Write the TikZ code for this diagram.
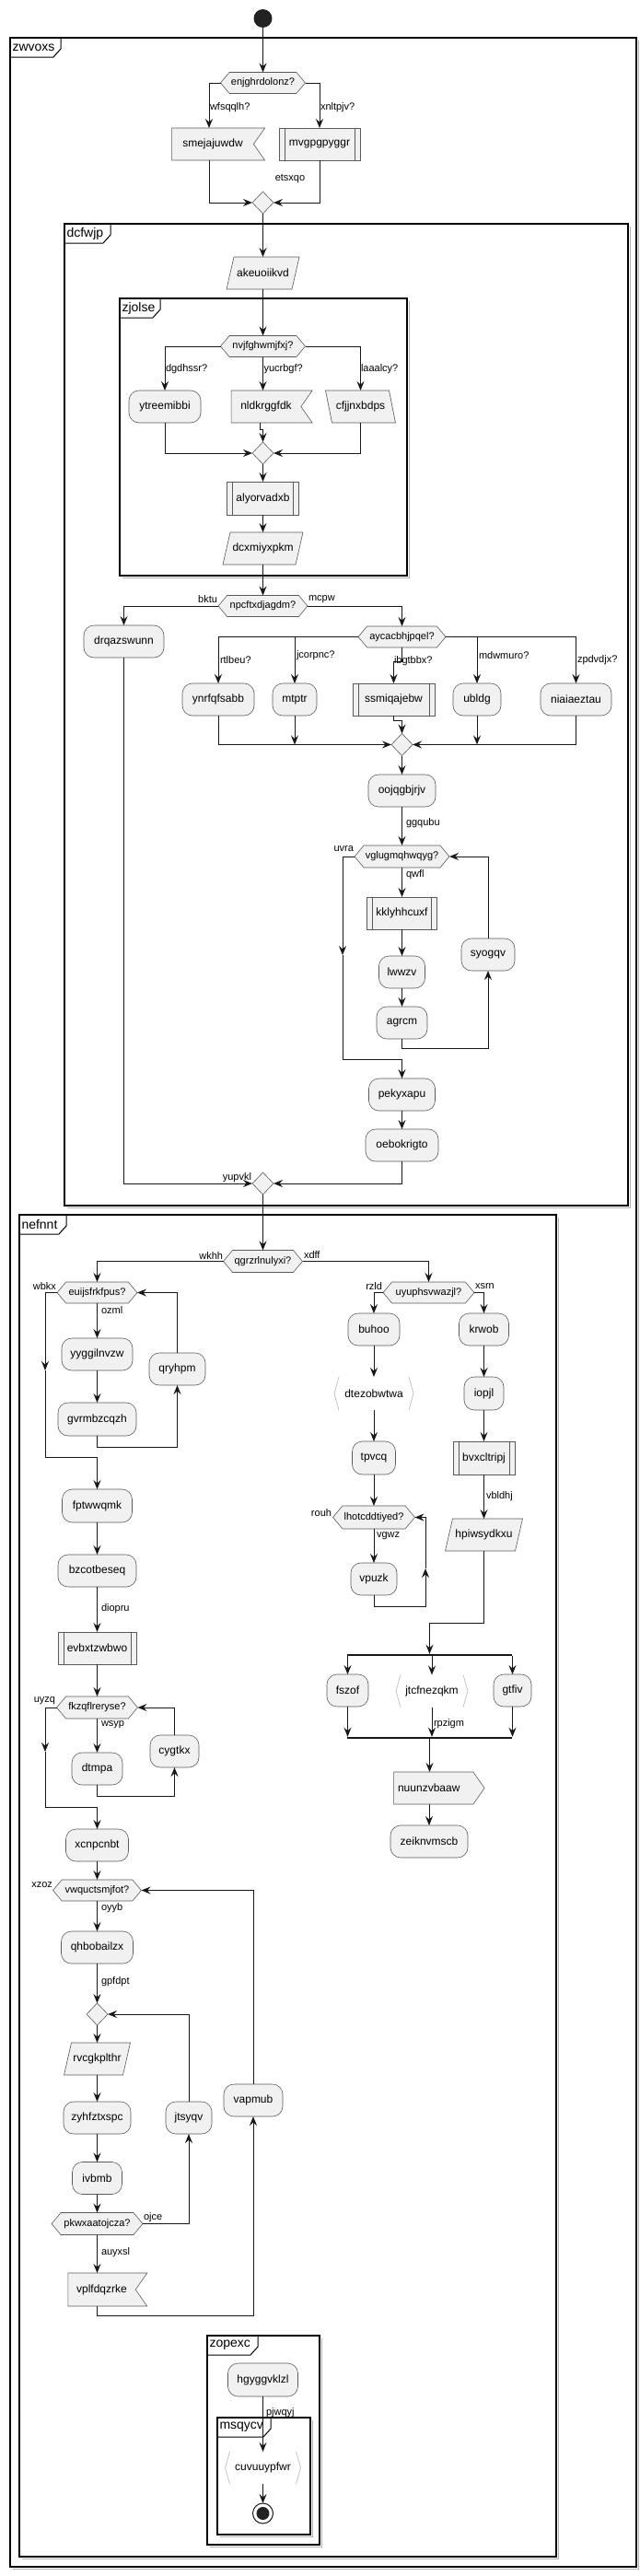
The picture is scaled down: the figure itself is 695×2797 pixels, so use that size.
\documentclass[tikz,border=0pt]{standalone}
\usepackage{fontspec}
\setmainfont{Liberation Sans}
\usetikzlibrary{shapes.symbols,shapes.geometric,arrows.meta,calc,backgrounds}
\definecolor{boxfill}{HTML}{F1F1F1}
\definecolor{lc}{HTML}{181818}
\definecolor{bd}{HTML}{5A5A5A}
\definecolor{chevc}{HTML}{B4B4B4}
\definecolor{dotc}{HTML}{222222}
\newcommand\umlframe[7]{%
  \draw[frshadow] (#3+2.5,#2+3) -- (#3+2.5,#4+2.5) -- (#1+3,#4+2.5);
  \draw[frline] (#1,#2) rectangle (#3,#4);
  \draw[frtab] (#1,#2+21) -- (#5-8,#2+21) -- (#5,#2+12) -- (#5,#2);
  \node[frtitle] (#6) at (#1+2.5,#2+10.5) {#7};
}
\newcommand\chevshape[1]{%
  \draw[chevl] ([xshift=5pt]#1.north west) -- (#1.west) -- ([xshift=5pt]#1.south west);
  \draw[chevl] ([xshift=-5pt]#1.north east) -- (#1.east) -- ([xshift=-5pt]#1.south east);
}
% parallelogram leaning right (top shifted right)
\newcommand\paral[2]{%
  \begin{scope}[on background layer]
  \filldraw[fill=boxfill, draw=bd, line width=0.6pt] ([xshift=#2]#1.north west) -- (#1.north east) -- ([xshift=-#2]#1.south east) -- (#1.south west) -- cycle;
  \end{scope}}
% parallelogram leaning left (top shifted left)
\newcommand\paralr[2]{%
  \begin{scope}[on background layer]
  \filldraw[fill=boxfill, draw=bd, line width=0.6pt] (#1.north west) -- ([xshift=-#2]#1.north east) -- (#1.south east) -- ([xshift=#2]#1.south west) -- cycle;
  \end{scope}}
\begin{document}
\begin{tikzpicture}[x=1pt,y=-1pt,
  every node/.style={inner sep=0pt, outer sep=0pt},
  txt/.style={font=\fontsize{12}{14}\selectfont},
  shp/.style={txt, draw=bd, line width=0.6pt, fill=boxfill, minimum height=35pt},
  act/.style={shp, rectangle, rounded corners=11pt},
  sub/.style={shp, rectangle, path picture={
     \draw[draw=bd, line width=0.6pt] ([xshift=6pt]path picture bounding box.north west) -- ([xshift=6pt]path picture bounding box.south west)
     ([xshift=-6pt]path picture bounding box.north east) -- ([xshift=-6pt]path picture bounding box.south east);}},
  io/.style={txt, rectangle, minimum height=35pt},
  recv/.style={shp, signal, signal to=nowhere, signal from=east, signal pointer angle=110},
  send/.style={shp, signal, signal to=east, signal from=nowhere, signal pointer angle=110},
  hex/.style={font=\fontsize{11}{13}\selectfont, draw=bd, line width=0.6pt, fill=boxfill, signal, signal to=east and west, signal pointer angle=100, minimum height=23pt},
  merge/.style={diamond, draw=bd, line width=0.6pt, fill=boxfill, minimum width=23pt, minimum height=24pt},
  chev/.style={txt, minimum height=35pt},
  chevl/.style={draw=chevc, line width=0.6pt},
  lbl/.style={font=\fontsize{11}{13}\selectfont, anchor=west},
  lble/.style={font=\fontsize{11}{13}\selectfont, anchor=east},
  arr/.style={draw=lc, line width=1pt, -{Stealth[length=10pt,width=8pt,inset=3.5pt]}},
  ln/.style={draw=lc, line width=1pt},
  bar/.style={rectangle, fill=lc, minimum height=2.5pt},
  frline/.style={draw=black, line width=1.4pt},
  frtab/.style={draw=black, line width=1pt},
  frshadow/.style={draw=black!30, line width=1pt},
  frtitle/.style={font=\fontsize{14}{16}\selectfont, anchor=west}
]
\useasboundingbox (0,0) rectangle (695,2797);

% frames
\umlframe{11}{41}{691}{2787}{66}{tzw}{zwvoxs}
\umlframe{70}{243}{682}{1309}{120}{tdc}{dcfwjp}
\umlframe{130}{324}{442}{625}{174}{tzj}{zjolse}
\umlframe{21}{1319}{604}{2776}{72}{tne}{nefnnt}
\umlframe{225}{2536}{347}{2763}{280}{tzo}{zopexc}
\umlframe{236}{2625}{337}{2752}{294}{tms}{msqycv}

% ---------- top ----------
\node[circle, fill=dotc, minimum size=20pt] (start) at (285.5,20) {};
\node[hex, minimum width=92pt] (d1) at (285.5,90) {enjghrdolonz?};
\node[recv, minimum width=101pt] (smej) at (231,156.5) {smejajuwdw};
\node[sub, minimum width=88pt] (mvgp) at (347,156.5) {mvgpgpyggr};
\node[merge] (m1) at (285.5,220) {};
\node[lbl] (l1) at (228,117) {wfsqqlh?};
\node[lbl] (l2) at (348,117) {xnltpjv?};
\node[font=\fontsize{11}{13}\selectfont] (l3) at (315,194) {etsxqo};

\draw[arr] (start) -- (d1);
\draw[arr] (d1.west) -| ([xshift=-4pt]smej.north);
\draw[arr] (d1.east) -| (mvgp.north);
\draw[arr] ([xshift=-4pt]smej.south) |- (m1.west);
\draw[arr] (mvgp.south) |- (m1.east);

% ---------- dcfwjp ----------
\node[io, minimum width=79pt] (akeu) at (285.5,296.5) {akeuoiikvd};
\paral{akeu}{8pt}
\draw[arr] (m1.south) -- (akeu.north);

\node[hex, minimum width=92pt] (d2) at (285.5,376) {nvjfghwmjfxj?};
\node[act, minimum width=78pt] (ytre) at (179,441.5) {ytreemibbi};
\node[recv, minimum width=88pt] (nldk) at (289,441.5) {nldkrggfdk};
\node[io, minimum width=76pt] (cfjj) at (391.5,441.5) {cfjjnxbdps};
\paralr{cfjj}{7pt}
\node[merge] (m2) at (285.5,492) {};
\node[lbl] (l4) at (180,401) {dgdhssr?};
\node[lbl] (l5) at (286.5,401) {yucrbgf?};
\node[lbl] (l6) at (392,401) {laaalcy?};
\draw[arr] (akeu.south) -- (d2.north);
\draw[arr] (d2.west) -| (ytre.north);
\draw[arr] (d2.south) -- (d2.south |- nldk.north);
\draw[arr] (d2.east) -| (cfjj.north);
\draw[arr] (ytre.south) |- (m2.west);
\draw[arr] ([xshift=-7pt]nldk.south) -- ++(0,7) -| (m2.north);
\draw[arr] (cfjj.south) |- (m2.east);

\node[sub, minimum width=78pt, minimum height=36pt] (alyo) at (285.5,541) {alyorvadxb};
\node[io, minimum width=87pt] (dcxm) at (285.5,595.5) {dcxmiyxpkm};
\paral{dcxm}{8pt}
\draw[arr] (m2.south) -- (alyo.north);
\draw[arr] (alyo.south) -- (dcxm.north);

\node[hex, minimum width=97pt] (d3) at (285.5,658) {npcftxdjagdm?};
\node[lble] (l7) at (236,651) {bktu};
\node[lbl] (l8) at (335,651) {mcpw};
\draw[arr] (dcxm.south) -- (d3.north);
\node[act, minimum width=87pt] (drqa) at (134.5,696.5) {drqazswunn};
\node[hex, minimum width=95pt] (d4) at (436.5,691.5) {aycacbhjpqel?};
\draw[arr] (d3.west) -| (drqa.north);
\draw[arr] (d3.east) -| (d4.north);

\node[act, minimum width=78pt] (ynrf) at (237,759.5) {ynrfqfsabb};
\node[act, minimum width=48pt] (mtpt) at (320,759.5) {mtptr};
\node[sub, minimum width=89pt] (ssmi) at (427.5,759.5) {ssmiqajebw};
\node[act, minimum width=52pt] (ubld) at (518,759.5) {ubldg};
\node[act, minimum width=77pt] (niai) at (625.5,759.5) {niaiaeztau};
\node[lbl] (l9) at (239,717) {rtlbeu?};
\node[lbl] (l10) at (322,712) {jcorpnc?};
\node[lbl] (l11) at (428,718) {ibgtbbx?};
\node[lbl] (l12) at (520,712) {mdwmuro?};
\node[lbl] (l13) at (627,717) {zpdvdjx?};
\draw[arr] (d4.west) -| (ynrf.north);
\draw[arr] (d4.west) -| (mtpt.north);
\draw[arr] (d4.south) -- ++(0,15) -| (ssmi.north);
\draw[arr] (d4.east) -| (ubld.north);
\draw[arr] (d4.east) -| (niai.north);

\node[merge] (m3) at (436.5,808.5) {};
\draw[arr] (ynrf.south) |- (m3.west);
\draw[arr] (mtpt.south) -- (mtpt.south |- m3.west);
\draw[arr] (ssmi.south) -- ++(0,5) -| (m3.north);
\draw[arr] (ubld.south) -- (ubld.south |- m3.east);
\draw[arr] (niai.south) |- (m3.east);

\node[act, minimum width=73pt] (oojq) at (436.5,858.5) {oojqgbjrjv};
\draw[arr] (m3.south) -- (oojq.north);
\node[lbl] (l14) at (441,894) {ggqubu};
\node[hex, minimum width=103pt, minimum height=24pt] (d5) at (436.5,930) {vglugmqhwqyg?};
\draw[arr] (oojq.south) -- (d5.north);
\node[lble] (l15) at (384,922) {uvra};
\node[lbl] (l16) at (441,950) {qwfl};
\node[sub, minimum width=76pt] (kkly) at (436.5,991.5) {kklyhhcuxf};
\node[act, minimum width=50pt] (lwwz) at (436.5,1055.5) {lwwzv};
\node[act, minimum width=55pt] (agrc) at (436.5,1110.5) {agrcm};
\node[act, minimum width=58pt] (syog) at (530,1036.5) {syogqv};
\draw[arr] (d5.south) -- (kkly.north);
\draw[arr] (kkly.south) -- (lwwz.north);
\draw[arr] (lwwz.south) -- (agrc.north);
\draw[arr] (agrc.south) -- ++(0,10) -| (syog.south);
\draw[arr] (syog.north) |- (d5.east);

\node[act, minimum width=72pt] (peky) at (436.5,1188.5) {pekyxapu};
\node[act, minimum width=79pt] (oebo) at (436.5,1243.5) {oebokrigto};
\coordinate (ua) at (372,1037);
\coordinate (ub) at (436.5,1150);
\draw[arr] (d5.west) -| (ua);
\draw[ln] (ua) |- (ub);
\draw[arr] (ub) -- (peky.north);
\draw[arr] (peky.south) -- (oebo.north);

\node[merge] (m4) at (285.5,1285) {};
\node[lble] (l17) at (273,1279) {yupvkl};
\draw[arr] (drqa.south) |- (m4.west);
\draw[arr] (oebo.south) |- (m4.east);

% ---------- nefnnt ----------
\node[hex, minimum width=86pt, minimum height=24pt] (d6) at (285.5,1369.5) {qgrzrlnulyxi?};
\node[lble] (l18) at (242,1363) {wkhh};
\node[lbl] (l19) at (330,1363) {xdff};
\draw[arr] (m4.south) -- (d6.north);

\node[hex, minimum width=87pt] (d7) at (105.5,1403.5) {euijsfrkfpus?};
\node[lble] (l20) at (61,1397) {wbkx};
\node[lbl] (l21) at (110,1423) {ozml};
\draw[arr] (d6.west) -| (d7.north);
\node[act, minimum width=77pt] (yygg) at (105.5,1470.5) {yyggilnvzw};
\node[act, minimum width=85pt, minimum height=36pt] (gvrm) at (105.5,1541) {gvrmbzcqzh};
\node[act, minimum width=61pt] (qryh) at (192.5,1486.5) {qryhpm};
\draw[arr] (d7.south) -- (yygg.north);
\draw[arr] (yygg.south) -- (gvrm.north);
\draw[arr] (gvrm.south) -- ++(0,12) -| (qryh.south);
\draw[arr] (qryh.north) |- (d7.east);
\coordinate (wb) at (49,1488);
\coordinate (wb2) at (105.5,1582);
\draw[arr] (d7.west) -| (wb);
\draw[ln] (wb) |- (wb2);

\node[act, minimum width=76pt, minimum height=36pt] (fptw) at (105.5,1635) {fptwwqmk};
\node[act, minimum width=85pt] (bzco) at (105.5,1705.5) {bzcotbeseq};
\node[sub, minimum width=85pt] (evbx) at (105.5,1789.5) {evbxtzwbwo};
\node[lbl] (l22) at (110,1747) {diopru};
\draw[arr] (wb2) -- (fptw.north);
\draw[arr] (fptw.south) -- (bzco.north);
\draw[arr] (bzco.south) -- (evbx.north);

\node[hex, minimum width=88pt, minimum height=24pt] (d8) at (105.5,1854) {fkzqflreryse?};
\node[lble] (l23) at (60,1847) {uyzq};
\node[lbl] (l24) at (110,1873) {wsyp};
\draw[arr] (evbx.south) -- (d8.north);
\node[act, minimum width=55pt] (dtmp) at (105.5,1920.5) {dtmpa};
\node[act, minimum width=53pt] (cygt) at (189.5,1901.5) {cygtkx};
\draw[arr] (d8.south) -- (dtmp.north);
\draw[arr] (dtmp.south) -- ++(0,12) -| (cygt.south);
\draw[arr] (cygt.north) |- (d8.east);
\coordinate (uz) at (49,1902);
\coordinate (uz2) at (105.5,1962);
\draw[arr] (d8.west) -| (uz);
\draw[ln] (uz) |- (uz2);

\node[act, minimum width=68pt] (xcnp) at (105.5,2003.5) {xcnpcnbt};
\draw[arr] (uz2) -- (xcnp.north);
\node[hex, minimum width=96pt] (d9) at (105.5,2052.5) {vwquctsmjfot?};
\node[lble] (l25) at (57,2047) {xzoz};
\node[lbl] (l26) at (110,2072) {oyyb};
\draw[arr] (xcnp.south) -- (d9.north);
\node[act, minimum width=78pt] (qhbo) at (105.5,2114.5) {qhbobailzx};
\node[lbl] (l27) at (110,2152) {gpfdpt};
\draw[arr] (d9.south) -- (qhbo.north);
\node[merge] (m5) at (105.5,2187) {};
\draw[arr] (qhbo.south) -- (m5.north);
\node[io, minimum width=72pt] (rvcg) at (105.5,2235.5) {rvcgkplthr};
\paral{rvcg}{8pt}
\node[act, minimum width=73pt] (zyhf) at (105.5,2299.5) {zyhfztxspc};
\node[act, minimum width=50pt] (jtsy) at (205,2299.5) {jtsyqv};
\node[act, minimum width=64pt] (vapm) at (275,2280.5) {vapmub};
\node[act, minimum width=54pt] (ivbm) at (105.5,2365) {ivbmb};
\draw[arr] (m5.south) -- (rvcg.north);
\draw[arr] (rvcg.south) -- (zyhf.north);
\draw[arr] (zyhf.south) -- (ivbm.north);
\node[hex, minimum width=99pt, minimum height=24pt] (d10) at (105.5,2414.5) {pkwxaatojcza?};
\node[lbl] (l28) at (156,2408) {ojce};
\node[lbl] (l29) at (110,2446) {auyxsl};
\draw[arr] (ivbm.south) -- (d10.north);
\draw[arr] (d10.east) -| (jtsy.south);
\draw[arr] (jtsy.north) |- (m5.east);
\node[recv, minimum width=86pt, minimum height=36pt] (vplf) at (110.5,2486) {vplfdqzrke};
\draw[arr] (d10.south) -- (d10.south |- vplf.north);
\draw[arr] (d10.south |- vplf.south) -- ++(0,10) -| (vapm.south);
\draw[arr] (vapm.north) |- (d9.east);

% right branch
\node[hex, minimum width=99pt] (d11) at (465.5,1403.5) {uyuphsvwazjl?};
\node[lble] (l30) at (415,1397) {rzld};
\node[lbl] (l31) at (516,1397) {xsrn};
\draw[arr] (d6.east) -| (d11.north);
\node[act, minimum width=56pt] (buho) at (406,1443.5) {buhoo};
\node[act, minimum width=54pt] (krwo) at (525.5,1443.5) {krwob};
\draw[arr] (d11.west) -| (buho.north);
\draw[arr] (d11.east) -| (krwo.north);
\node[chev, minimum width=86pt, minimum height=36pt] (dtez) at (406,1513) {dtezobwtwa};
\chevshape{dtez}
\node[act, minimum width=47pt, minimum height=36pt] (tpvc) at (406,1583) {tpvcq};
\draw[arr] (buho.south) -- (dtez.north);
\draw[arr] (dtez.south) -- (tpvc.north);
\node[hex, minimum width=89pt, minimum height=25pt] (d12) at (406,1647.5) {lhotcddtiyed?};
\node[lble] (l32) at (360,1643) {rouh};
\node[lbl] (l33) at (409,1668) {vgwz};
\draw[arr] (tpvc.south) -- (d12.north);
\node[act, minimum width=50pt] (vpuz) at (406,1714.5) {vpuzk};
\draw[arr] (d12.south) -- (vpuz.north);
\coordinate (vp1) at (462,1703);
\draw[arr] (vpuz.south) -- ++(0,12) -| (vp1);
\draw[arr] (vp1) |- (d12.east);

\node[act, minimum width=43pt, minimum height=36pt] (iopj) at (525.5,1513) {iopjl};
\node[sub, minimum width=67pt, minimum height=36pt] (bvxc) at (525.5,1583) {bvxcltripj};
\node[io, minimum width=84pt] (hpiw) at (525.5,1666.5) {hpiwsydkxu};
\paral{hpiw}{8pt}
\node[lbl] (l34) at (528,1625) {vbldhj};
\draw[arr] (krwo.south) -- (iopj.north);
\draw[arr] (iopj.south) -- (bvxc.north);
\draw[arr] (bvxc.south) -- (hpiw.north);

\node[bar, minimum width=179pt] (fork1) at (466.5,1797) {};
\coordinate (hj) at (466.5,1762);
\draw[ln] (hpiw.south) |- (hj);
\draw[arr] (hj) -- (fork1.north);
\node[act, minimum width=45pt] (fszo) at (377.5,1835.5) {fszof};
\node[chev, minimum width=78pt] (jtcf) at (469,1836) {jtcfnezqkm};
\chevshape{jtcf}
\node[act, minimum width=41pt] (gtfi) at (556.5,1835.5) {gtfiv};
\draw[arr] (fork1.south -| fszo.north) -- (fszo.north);
\draw[arr] (fork1.south -| jtcf.north) -- (jtcf.north);
\draw[arr] (fork1.south -| gtfi.north) -- (gtfi.north);
\node[bar, minimum width=179pt] (join1) at (466.5,1887) {};
\node[lbl] (l35) at (471,1872) {rpzigm};
\draw[arr] (fszo.south) -- (fszo.south |- join1.north);
\draw[arr] (jtcf.south) -- (jtcf.south |- join1.north);
\draw[arr] (gtfi.south) -- (gtfi.south |- join1.north);
\node[send, minimum width=98.5pt] (nuun) at (470.75,1941.5) {\hspace*{-10pt}nuunzvbaaw};
\node[act, minimum width=84pt] (zeik) at (466,1999.5) {zeiknvmscb};
\draw[arr] (join1.south) -- (join1.south |- nuun.north);
\draw[arr] (zeik.north |- nuun.south) -- (zeik.north);

% ---------- zopexc ----------
\node[act, minimum width=76pt, minimum height=36pt] (hgyg) at (285.5,2584) {hgyggvklzl};
\node[lbl] (l36) at (289,2620) {pjwqyj};
\node[chev, minimum width=82pt] (cuvu) at (285.5,2679.5) {cuvuuypfwr};
\chevshape{cuvu}
\node[circle, draw=lc, line width=1pt, fill=white, minimum size=22pt,
  path picture={\fill[dotc] (path picture bounding box.center) circle (7pt);}] (endc) at (285.5,2729) {};
\draw[arr] (hgyg.south) -- (cuvu.north);
\draw[arr] (cuvu.south) -- (endc.north);
\end{tikzpicture}
\end{document}
